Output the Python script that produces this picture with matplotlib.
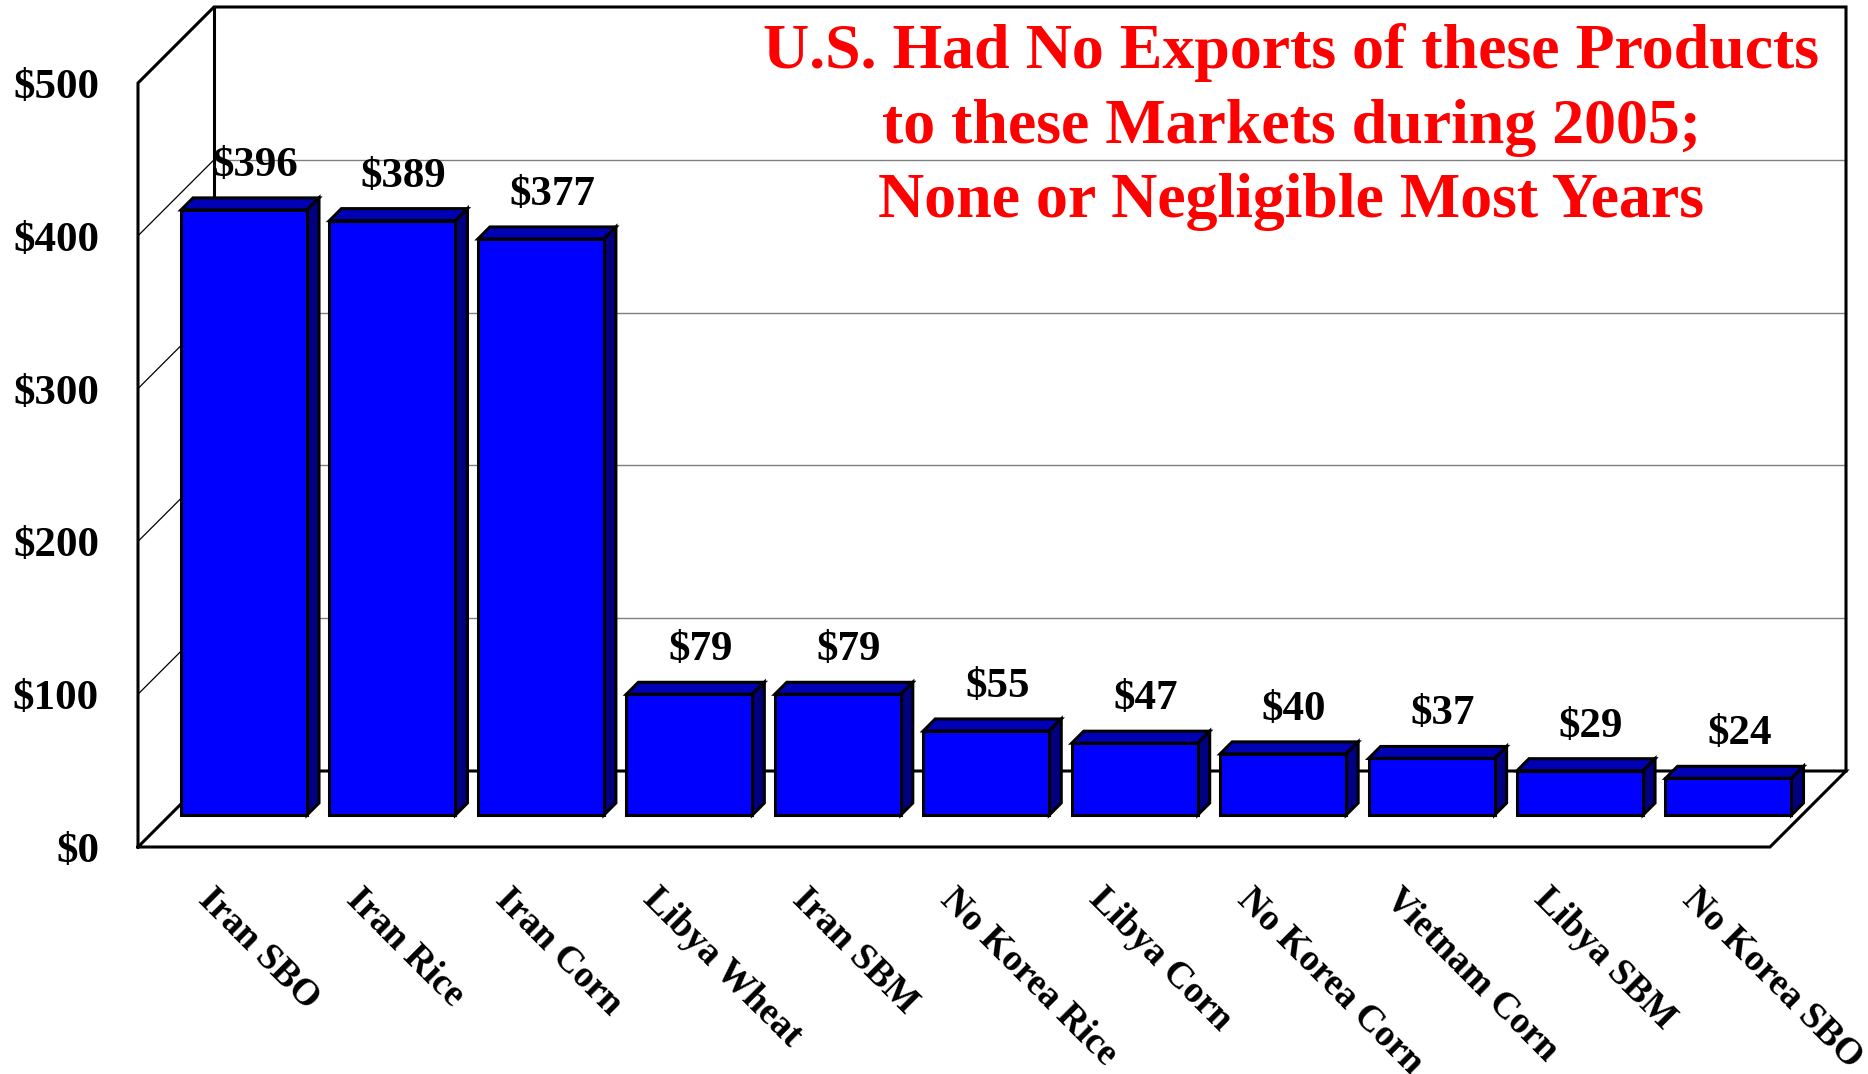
import matplotlib
matplotlib.use('Agg')
import matplotlib.pyplot as plt
import numpy as np

plt.rcParams['font.family'] = ['Liberation Serif', 'DejaVu Serif']

categories = ['Iran SBO', 'Iran Rice', 'Iran Corn', 'Libya Wheat', 'Iran SBM', 'No Korea Rice',
              'Libya Corn', 'No Korea Corn', 'Vietnam Corn', 'Libya SBM', 'No Korea SBO']
values = [396, 389, 377, 79, 79, 55, 47, 40, 37, 29, 24]
yticks = [0, 100, 200, 300, 400, 500]
title = 'U.S. Had No Exports of these Products\nto these Markets during 2005;\nNone or Negligible Most Years'

W, H = 1868, 1074
# pixel scale of the axes
px_per_cat = 148.45
px_per_usd = 1.528
x0_px = 244.0   # centre of first bar
y0_px = 847.0   # $0 on the front plane


def dx(px):
    return px / px_per_cat


def dy(px):
    return px / px_per_usd


fig = plt.figure(figsize=(W / 100, H / 100), dpi=100)
ax = fig.add_axes([0, 0, 1, 1])
ax.set_xlim(-x0_px / px_per_cat, (W - x0_px) / px_per_cat)
ax.set_ylim((y0_px - H) / px_per_usd, y0_px / px_per_usd)
ax.axis('off')

n = len(categories)
x = np.arange(n)
bar_w = dx(126)
depth_x = dx(76)
depth_y = dy(76)
left = -dx(106)    # front left corner of the box
right = dx(1526)   # front right corner of the box
top = yticks[-1]
lw_heavy = 2.2

# gridlines, back wall and side wall
for t in yticks[1:-1]:
    ax.plot([left + depth_x, right + depth_x], [t + depth_y, t + depth_y], color='#808080', lw=1, zorder=1)
    ax.plot([left, left + depth_x], [t, t + depth_y], color='black', lw=0.9, zorder=1)
ax.plot([left, left, left + depth_x, right + depth_x, right + depth_x],
        [0, top, top + depth_y, top + depth_y, depth_y], color='black', lw=lw_heavy, zorder=2, solid_joinstyle='miter')
ax.plot([left + depth_x, left + depth_x], [depth_y, top + depth_y], color='black', lw=lw_heavy, zorder=2)
ax.plot([left, left + depth_x, right + depth_x, right, left], [0, depth_y, depth_y, 0, 0],
        color='black', lw=lw_heavy, zorder=2, solid_joinstyle='miter')

# 3d bars
base = dy(y0_px - 815)
bd_x = dx(12)
bd_y = dy(12)
for xi, v in zip(x, values):
    l, r = xi - bar_w / 2, xi + bar_w / 2
    tp = base + v
    ax.fill([l, l + bd_x, r + bd_x, r], [tp, tp + bd_y, tp + bd_y, tp], facecolor='#0000B4',
            edgecolor='black', lw=lw_heavy, zorder=3)
    ax.fill([r, r + bd_x, r + bd_x, r], [base, base + bd_y, tp + bd_y, tp], facecolor='#000080',
            edgecolor='black', lw=lw_heavy, zorder=3)
ax.bar(x, values, width=bar_w, bottom=base, color='#0000FF', edgecolor='black', linewidth=lw_heavy, zorder=4)

# value labels
for xi, v in zip(x, values):
    ax.text(xi + dx(11), base + v + dy(44), '$%d' % v, ha='center', va='center',
            fontsize=31, fontweight='bold', color='black', zorder=5)

# y labels
for t in yticks:
    ax.text(left - dx(39), t - dy(5), '$%d' % t, ha='right', va='center', fontsize=31, fontweight='bold', color='black')

# category labels
for xi, c in zip(x, categories):
    ax.text(xi - dx(40.5), -dy(47), c, rotation=-45, rotation_mode='anchor', ha='left', va='center',
            fontsize=27, fontweight='bold', color='black')

ax.text(dx(1291 - x0_px), dy(y0_px - 127), title, ha='center', va='center', fontsize=46,
        fontweight='bold', color='#FF0000', linespacing=1.37, zorder=6)

fig.savefig('out.png', dpi=100, facecolor='white')
